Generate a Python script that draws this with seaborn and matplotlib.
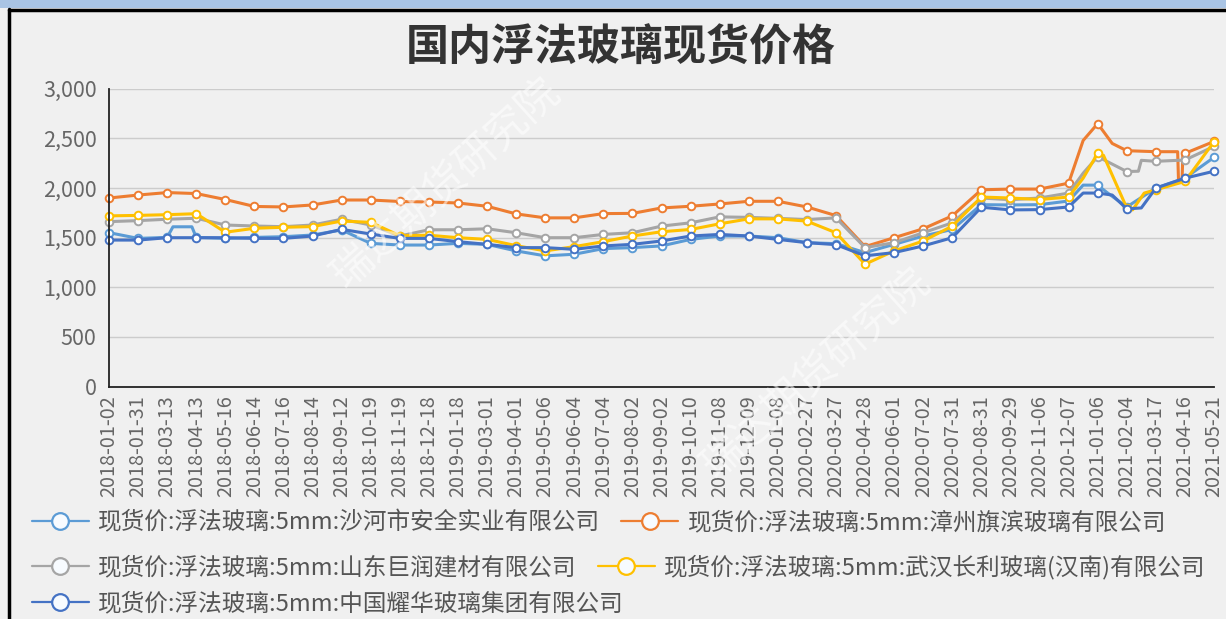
import numpy as np
import pandas as pd
import matplotlib
matplotlib.use("Agg")
import matplotlib.pyplot as plt
from matplotlib.lines import Line2D
from matplotlib.patches import Rectangle
import seaborn as sns

# ---------------- data ----------------
dates = ["2018-01-02", "2018-01-31", "2018-03-13", "2018-04-13", "2018-05-16", "2018-06-14",
         "2018-07-16", "2018-08-14", "2018-09-12", "2018-10-19", "2018-11-19", "2018-12-18",
         "2019-01-18", "2019-03-01", "2019-04-01", "2019-05-06", "2019-06-04", "2019-07-04",
         "2019-08-02", "2019-09-02", "2019-10-10", "2019-11-08", "2019-12-09", "2020-01-08",
         "2020-02-27", "2020-03-27", "2020-04-28", "2020-06-01", "2020-07-02", "2020-07-31",
         "2020-08-31", "2020-09-29", "2020-11-06", "2020-12-07", "2021-01-06", "2021-02-04",
         "2021-03-17", "2021-04-16", "2021-05-21"]

names = ["现货价:浮法玻璃:5mm:沙河市安全实业有限公司",
         "现货价:浮法玻璃:5mm:漳州旗滨玻璃有限公司",
         "现货价:浮法玻璃:5mm:山东巨润建材有限公司",
         "现货价:浮法玻璃:5mm:武汉长利玻璃(汉南)有限公司",
         "现货价:浮法玻璃:5mm:中国耀华玻璃集团有限公司"]
colors = ["#5B9BD5", "#ED7D31", "#A5A5A5", "#FFC000", "#4472C4"]

# values at each labelled date
shahe = [1551, 1493, 1503, 1503, 1493, 1503, 1510, 1527, 1578, 1443, 1426, 1426, 1443,
         1433, 1367, 1317, 1333, 1390, 1400, 1417, 1483, 1517, 1517, 1500, 1450, 1440,
         1350, 1433, 1517, 1583, 1833, 1830, 1833, 1870, 2030, 1810, 2000, 2100, 2310]
zhangzhou = [1900, 1930, 1955, 1945, 1885, 1815, 1810, 1830, 1880, 1880, 1865, 1860, 1850,
             1817, 1740, 1700, 1700, 1743, 1745, 1800, 1817, 1840, 1867, 1867, 1810, 1723,
             1410, 1500, 1590, 1720, 1983, 1990, 1990, 2050, 2650, 2377, 2367, 2350, 2470]
shandong = [1662, 1672, 1686, 1696, 1628, 1618, 1611, 1628, 1686, 1628, 1517, 1580, 1580,
            1590, 1550, 1500, 1500, 1533, 1550, 1617, 1650, 1710, 1705, 1695, 1683, 1700,
            1400, 1450, 1550, 1650, 1900, 1883, 1900, 1950, 2317, 2167, 2270, 2283, 2420]
wuhan = [1720, 1725, 1732, 1742, 1555, 1595, 1605, 1612, 1668, 1655, 1520, 1525, 1500,
         1483, 1420, 1367, 1410, 1460, 1517, 1560, 1583, 1640, 1690, 1690, 1667, 1550,
         1233, 1367, 1467, 1617, 1910, 1900, 1885, 1910, 2350, 1800, 1983, 2067, 2467]
yaohua = [1476, 1476, 1500, 1500, 1500, 1493, 1493, 1517, 1584, 1537, 1493, 1493, 1460,
          1433, 1400, 1400, 1383, 1417, 1433, 1467, 1517, 1533, 1517, 1483, 1450, 1430,
          1317, 1350, 1417, 1500, 1807, 1780, 1783, 1810, 1950, 1790, 2000, 2100, 2170]

# extra (between-label) points, position in label units
shahe_extra_pos = [2.2, 2.85, 33.5, 34.3]
shahe_extra_val = [1610, 1610, 2030, 1960]
zhangzhou_extra_pos = [33.5, 34.5, 36.75, 36.78, 36.9, 36.93]
zhangzhou_extra_val = [2480, 2450, 2367, 2070, 2070, 2340]
shandong_extra_pos = [33.5, 35.4, 35.5]
shandong_extra_val = [2150, 2170, 2280]
wuhan_extra_pos = [33.5, 34.2, 35.2, 35.6]
wuhan_extra_val = [2100, 2330, 1780, 1950]
yaohua_extra_pos = [33.5, 34.5, 35.5]
yaohua_extra_val = [1950, 1930, 1800]

y_ticks = [0, 500, 1000, 1500, 2000, 2500, 3000]
title = "国内浮法玻璃现货价格"
watermark = "瑞达期货研究院"

series_vals = [shahe, zhangzhou, shandong, wuhan, yaohua]
series_extra = [(shahe_extra_pos, shahe_extra_val), (zhangzhou_extra_pos, zhangzhou_extra_val),
                (shandong_extra_pos, shandong_extra_val), (wuhan_extra_pos, wuhan_extra_val),
                (yaohua_extra_pos, yaohua_extra_val)]

# ---------------- style ----------------
sns.set_style("white")
plt.rcParams["font.family"] = ["Noto Sans CJK SC", "DejaVu Sans"]
plt.rcParams["axes.unicode_minus"] = False

BG = "#f0f0f0"
fig = plt.figure(figsize=(12.26, 6.19), dpi=100, facecolor=BG)
ax = fig.add_axes([109 / 1226, 1 - 386.5 / 619, (1214 - 109) / 1226, (386.5 - 88.9) / 619])
ax.set_facecolor(BG)

n = len(dates)
for i in range(len(names)):
    ep, ev = series_extra[i]
    d = pd.DataFrame({"pos": list(range(n)) + list(ep),
                      "price": list(series_vals[i]) + list(ev)}).sort_values("pos")
    sns.lineplot(data=d, x="pos", y="price", color=colors[i], lw=2.2, estimator=None,
                 sort=True, ax=ax, legend=False, zorder=3 + i, clip_on=False)
    dt = pd.DataFrame({"pos": list(range(n)), "price": series_vals[i]})
    sns.scatterplot(data=dt, x="pos", y="price", color="white", edgecolor=colors[i],
                    s=30, linewidth=1.4, ax=ax, legend=False, zorder=3.5 + i, clip_on=False)

ax.set_xlim(0, n - 1)
ax.set_ylim(0, 3000)
ax.set_yticks(y_ticks)
ax.set_yticklabels([f"{v:,}" for v in y_ticks])
ax.set_xticks(range(n))
ax.set_xticklabels(dates, rotation=90)
ax.set_xticks(np.arange(n - 1) + 0.5, minor=True)
ax.tick_params(axis="x", which="major", length=0, pad=6, labelsize=14.3, labelcolor="#666666")
ax.tick_params(axis="x", which="minor", length=6, width=1.2, color="#222222")
ax.tick_params(axis="y", length=6, width=1.2, color="#222222", pad=3, labelsize=15.5,
               labelcolor="#666666")
ax.set_xlabel("")
ax.set_ylabel("")
ax.grid(axis="y", color="#cccccc", lw=1.0)
ax.grid(axis="x", visible=False)
for s in ["top", "right"]:
    ax.spines[s].set_visible(False)
for s in ["left", "bottom"]:
    ax.spines[s].set_color("#222222")
    ax.spines[s].set_linewidth(1.3)
    ax.spines[s].set_zorder(10)

# watermarks
ax.text(0.305, 0.68, watermark, transform=ax.transAxes, rotation=42, color="white",
        alpha=0.55, fontsize=30, ha="center", va="center", zorder=20)
ax.text(0.64, 0.04, watermark, transform=ax.transAxes, rotation=42, color="white",
        alpha=0.55, fontsize=30, ha="center", va="center", zorder=20)

# title
fig.text(0.506, 1 - 48 / 619, title, ha="center", va="center", fontsize=31,
         fontweight="bold", color="#333333")

# frame decorations
fig.patches.append(Rectangle((0, 1 - 8 / 619), 1, 8 / 619, transform=fig.transFigure,
                             facecolor="#a9c4e4", edgecolor="none", zorder=0))
fig.add_artist(Line2D([9 / 1226, 9 / 1226], [0, 1 - 9 / 619], transform=fig.transFigure,
                      color="black", lw=2.5))
fig.add_artist(Line2D([9 / 1226, 1], [1 - 9.5 / 619, 1 - 9.5 / 619], transform=fig.transFigure,
                      color="black", lw=2.5))

# legend rows (flow layout)
def handle(c):
    return Line2D([0], [0], color=c, lw=1.6, marker="o", markersize=12,
                  markerfacecolor="#f7fbff", markeredgecolor=c, markeredgewidth=1.6)

rows = [([0, 1], 1 - 523 / 619), ([2, 3], 1 - 567 / 619), ([4], 1 - 604 / 619)]
for idx, yc in rows:
    leg = fig.legend([handle(colors[k]) for k in idx], [names[k] for k in idx],
                     loc="center left", bbox_to_anchor=(32 / 1226, yc), ncol=len(idx),
                     frameon=False, fontsize=17, handlelength=2.4, handletextpad=0.4,
                     columnspacing=0.9, borderpad=0, borderaxespad=0)
    for t in leg.get_texts():
        t.set_color("#555555")

fig.savefig("out.png", dpi=100, facecolor=BG)
